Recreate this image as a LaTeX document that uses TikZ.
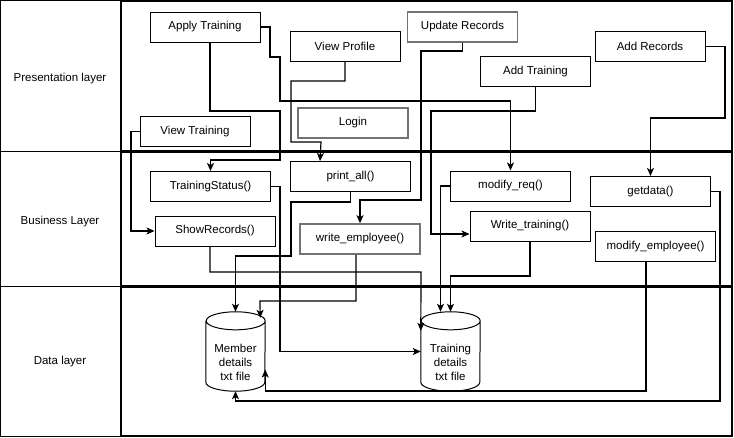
\documentclass[tikz,border=0pt]{standalone}
\usepackage{fontspec}
\setmainfont{Liberation Sans}
\usetikzlibrary{arrows.meta}

\begin{document}
\begin{tikzpicture}[x=1pt,y=1pt,
        font=\fontsize{11.5}{14}\selectfont,
        uibox/.style={draw,line width=1pt,minimum width=110pt,minimum height=30pt,inner sep=0pt},
        funcbox/.style={uibox,minimum width=120pt},
        greyline/.style={draw=black!55,line width=1.6pt},
        db/.style={minimum width=59pt,minimum height=79pt,inner sep=0pt},
        flow/.style={line width=1.2pt,-{Stealth[length=8pt,width=7pt,inset=2pt]}},
        panel/.style={line width=1.8pt}]
        \useasboundingbox (0,0) rectangle (734,-437);

        % Layers
        \draw[line width=1pt] (0.5,-0.5) rectangle (120,-151);
        \draw[line width=1pt] (0.5,-151) rectangle (120,-286);
        \draw[line width=1pt] (0.5,-286) rectangle (120,-436);
        \draw[panel] (121,-1) rectangle (732,-151);
        \draw[panel] (121,-152) rectangle (732,-286);
        \draw[panel] (121,-287) rectangle (732,-436);
        \node (presLbl) at (60,-79) {Presentation layer};
        \node (busLbl) at (60,-222) {Business Layer};
        \node (dataLbl) at (60,-362) {Data layer};

        % Presentation layer
        \node[uibox] (applyTr) at (205,-27) {Apply Training};
        \node[uibox] (viewProf) at (345,-46.5) {View Profile};
        \node[uibox,greyline] (updRec) at (462.5,-27) {Update Records};
        \node[uibox] (addRec) at (650,-46.5) {Add Records};
        \node[uibox] (addTr) at (535.5,-71.5) {Add Training};
        \node[uibox,greyline] (login) at (353,-123) {Login};
        \node[uibox] (viewTr) at (195,-131.5) {View Training};

        % Business layer
        \node[funcbox] (trStatus) at (210.5,-186.5) {TrainingStatus()};
        \node[funcbox] (printAll) at (350.5,-176.5) {print\_all()};
        \node[funcbox] (showRec) at (215,-231) {ShowRecords()};
        \node[funcbox,greyline] (writeEmp) at (360,-239) {write\_employee()};
        \node[funcbox] (modReq) at (510.5,-186) {modify\_req()};
        \node[funcbox] (getData) at (650.5,-191.5) {getdata()};
        \node[funcbox] (writeTr) at (530,-226) {Write\_training()};
        \node[funcbox] (modEmp) at (655.5,-246.5) {modify\_employee()};

        % Data layer
        \node[db] (memDb) at (235.5,-351.5) {};
        \node[db] (trainDb) at (450.5,-351.5) {};
        \foreach \db in {memDb,trainDb}
            \draw[line width=1pt] ([yshift=-9pt]\db.north west) -- ([yshift=9pt]\db.south west)
                arc[start angle=180,end angle=360,x radius=29.5pt,y radius=9pt]
                -- ([yshift=-9pt]\db.north east)
                arc[start angle=0,end angle=180,x radius=29.5pt,y radius=9pt]
                arc[start angle=180,end angle=360,x radius=29.5pt,y radius=9pt];
        \node[align=center] (memTxt) at (235.5,-362.5) {Member\\details\\txt file};
        \node[align=center] (trainTxt) at (450.5,-362.5) {Training\\details\\txt file};

        % Presentation -> Business
        \draw[flow] ([xshift=5pt]applyTr.south) |- (280,-111) |- (210.5,-160) -- (trStatus.north);
        \draw[flow] (applyTr.east) -| (270,-57) -| (280,-101) -| (modReq.north);
        \draw[flow] (viewProf.south) |- (291,-81) |- (321,-142) -- ([xshift=30pt]printAll.north west);
        \draw[flow] (updRec.south) |- (421,-51) |- (360,-200) -- (writeEmp.north);
        \draw[flow] (addTr.south) |- (431,-111) |- ([yshift=-8pt]writeTr.west);
        \draw[flow] (addRec.east) -| (725,-118) -| (getData.north);
        \draw[flow] (viewTr.west) -| (131,-231) -- (showRec.west);

        % Business -> Data
        \draw[flow] (trStatus.east) -| (280,-351.5) -- (trainDb.west);
        \draw[flow] (printAll.south) |- (291,-202) |- (235.5,-256) -- (memDb.north);
        \draw[flow] ([xshift=-5pt]showRec.south) |- (421,-272) -- ([yshift=-19pt]trainDb.north west);
        \draw[flow] ([xshift=-4pt]writeEmp.south) |- (260,-301) -- ([xshift=-5pt,yshift=-6pt]memDb.north east);
        \draw[flow] (modReq.west) -| ([xshift=-10pt]trainDb.north);
        \draw[flow] (writeTr.south) |- (450.5,-276) -- (trainDb.north);
        \draw[flow] (getData.east) -| (720,-401) -| (memDb.south);
        \draw[flow] ([xshift=-9.5pt]modEmp.south) |- ([yshift=-39.5pt]memDb.east) -- ([yshift=-18pt]memDb.east);
    \end{tikzpicture}
\end{document}
